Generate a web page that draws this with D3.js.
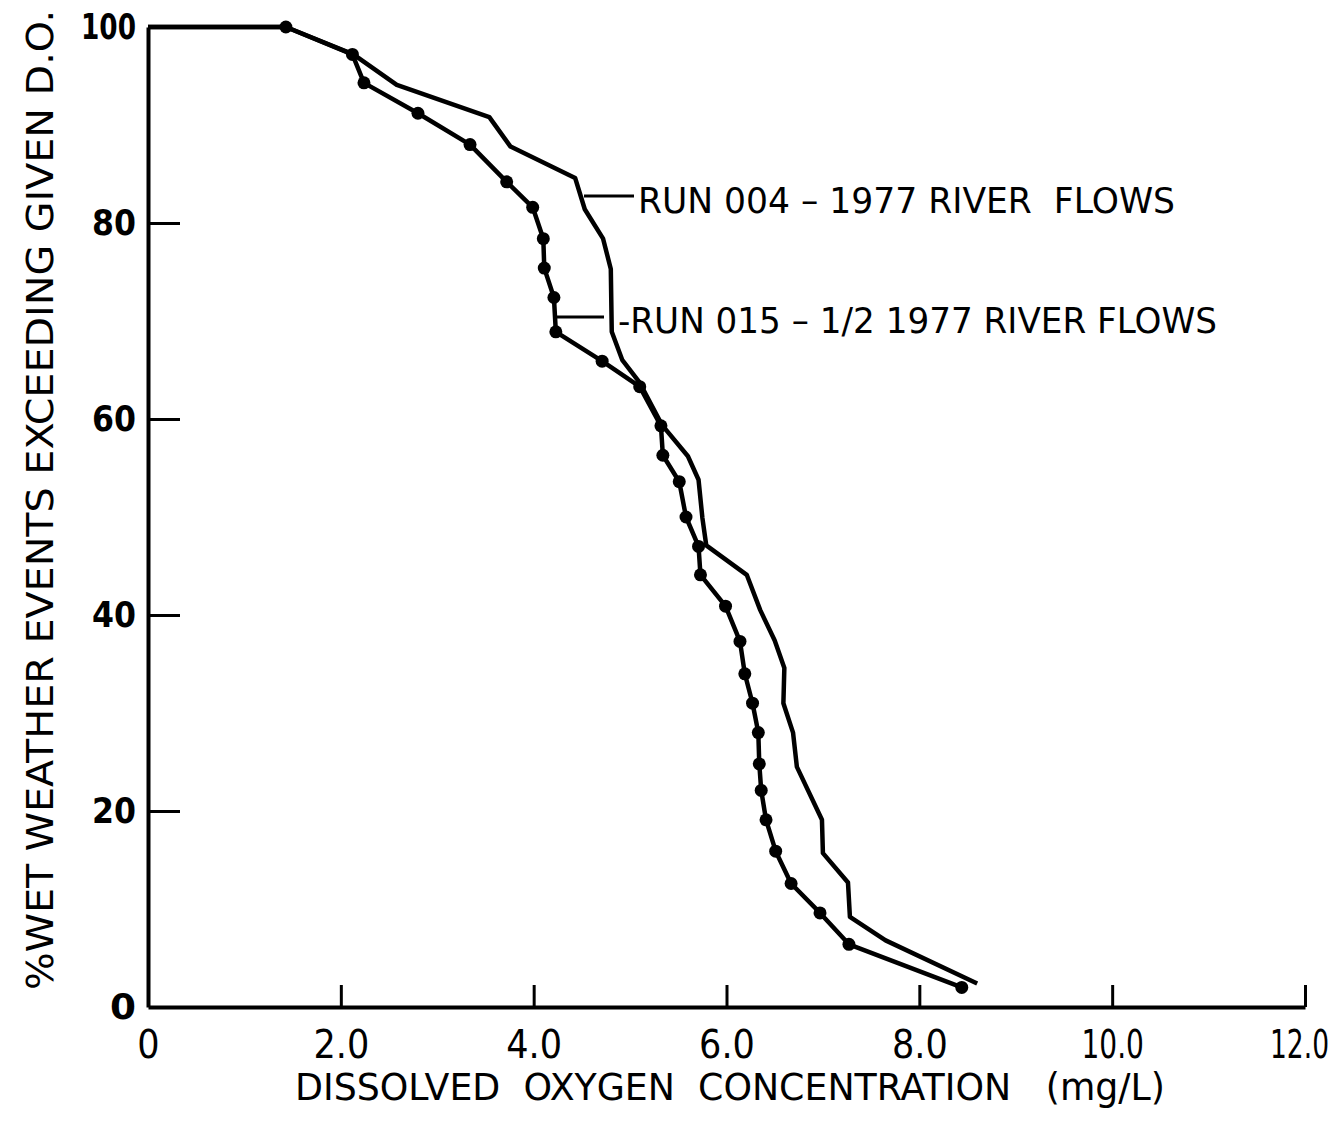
<!DOCTYPE html>
<html>
<head>
<meta charset="utf-8">
<script src="https://cdn.jsdelivr.net/npm/d3@7"></script>
<style>
  body { margin: 0; background: #fff; }
  text { font-family: "DejaVu Sans", sans-serif; fill: #000; }
</style>
</head>
<body>
<div></div>
<script>
// run 004 - 1977 river flows (plain line)
var run004Do = [0, 1.43, 2.13, 2.58, 3.54, 3.76, 4.43, 4.53, 4.72, 4.80, 4.81, 4.92, 5.10, 5.33, 5.60, 5.71, 5.75, 5.79, 6.21, 6.35, 6.50, 6.60, 6.59, 6.69, 6.73, 6.99, 7.00, 7.26, 7.28, 7.65, 8.60];
var run004Pct = [100, 100, 97.2, 94.1, 90.8, 87.8, 84.6, 81.4, 78.4, 75.3, 68.9, 66.0, 63.7, 59.4, 56.2, 53.8, 49.9, 47.1, 44.1, 40.5, 37.4, 34.6, 31.0, 28.0, 24.5, 19.1, 15.7, 12.7, 9.2, 6.8, 2.4];

// run 015 - 1/2 1977 river flows (line with dots, first point has no dot)
var run015Do = [0, 1.43, 2.12, 2.24, 2.80, 3.34, 3.72, 3.99, 4.10, 4.11, 4.21, 4.23, 4.71, 5.10, 5.32, 5.34, 5.51, 5.58, 5.71, 5.73, 5.99, 6.14, 6.19, 6.27, 6.33, 6.34, 6.36, 6.41, 6.51, 6.67, 6.97, 7.27, 8.44];
var run015Pct = [100, 100, 97.2, 94.3, 91.2, 88.0, 84.2, 81.6, 78.4, 75.4, 72.4, 68.9, 65.9, 63.3, 59.3, 56.3, 53.6, 50.0, 47.0, 44.1, 40.9, 37.3, 34.0, 31.0, 28.0, 24.8, 22.1, 19.1, 15.9, 12.6, 9.6, 6.4, 2.0];

var xTicks = [0, 2, 4, 6, 8, 10, 12];
var yTicks = [0, 20, 40, 60, 80, 100];

var width = 1340;
var height = 1134;

var svg = d3.select('div')
    .append('svg')
    .attr('width', width)
    .attr('height', height);

var xscale = d3.scaleLinear().domain([0, 12]).range([148, 1305]);
var yscale = d3.scaleLinear().domain([0, 100]).range([1007, 27]);

var run004 = run004Do.map(function (d, i) { return [d, run004Pct[i]]; });
var run015 = run015Do.map(function (d, i) { return [d, run015Pct[i]]; });

var line = d3.line()
    .x(function (d) { return xscale(d[0]); })
    .y(function (d) { return yscale(d[1]); });

// axes
var xaxis = d3.axisBottom(xscale)
    .tickValues(xTicks)
    .tickSize(-22)
    .tickSizeOuter(0)
    .tickPadding(23)
    .tickFormat(function (d) { return d === 0 ? "0" : d.toFixed(1); });

var yaxis = d3.axisLeft(yscale)
    .tickValues(yTicks)
    .tickSize(-32)
    .tickSizeOuter(0)
    .tickPadding(12)
    .tickFormat(function (d) { return d; });

var gx = svg.append("g")
    .attr("transform", "translate(0," + yscale(0) + ")")
    .call(xaxis);
gx.select(".domain").attr("stroke-width", 4).attr("stroke", "#000");
gx.selectAll(".tick line").attr("stroke-width", 3).attr("stroke", "#000");
gx.selectAll(".tick text")
    .style("font-size", "39px")
    .style("font-family", "'DejaVu Sans', sans-serif")
    .attr("fill", "#000")
    .attr("transform", function (d) {
        if (d === 0) return "scale(0.9,1)";
        if (d === 12) return "translate(-6,0) scale(0.68,1)";
        if (d === 10) return "scale(0.72,1)";
        return "scale(0.9,1)";
    });

var gy = svg.append("g")
    .attr("transform", "translate(" + xscale(0) + ",0)")
    .call(yaxis);
gy.select(".domain").attr("stroke-width", 4).attr("stroke", "#000");
gy.selectAll(".tick line").attr("stroke-width", 3).attr("stroke", "#000");
gy.selectAll(".tick").filter(function (d) { return d === 0 || d === 100; }).select("line").remove();
gy.selectAll(".tick text")
    .style("font-size", "36px")
    .style("font-weight", "bold")
    .style("font-family", "'DejaVu Sans', sans-serif")
    .attr("fill", "#000")
    .attr("lengthAdjust", "spacingAndGlyphs")
    .attr("textLength", function (d) { return d === 0 ? 26 : (d === 100 ? 55 : 44); });

// lines
svg.append("path")
    .datum(run004)
    .attr("d", line)
    .attr("fill", "none")
    .attr("stroke", "#000")
    .attr("stroke-width", 4.5)
    .attr("stroke-linejoin", "round");

svg.append("path")
    .datum(run015)
    .attr("d", line)
    .attr("fill", "none")
    .attr("stroke", "#000")
    .attr("stroke-width", 4.5)
    .attr("stroke-linejoin", "round");

svg.selectAll("circle")
    .data(run015.slice(1))
    .enter()
    .append("circle")
    .attr("cx", function (d) { return xscale(d[0]); })
    .attr("cy", function (d) { return yscale(d[1]); })
    .attr("r", 6.5)
    .attr("fill", "#000");

// labels with leader lines
svg.append("line")
    .attr("x1", 584).attr("y1", 196).attr("x2", 634).attr("y2", 196)
    .attr("stroke", "#000").attr("stroke-width", 3);
svg.append("text")
    .attr("x", 638)
    .attr("y", 213)
    .attr("textLength", 537)
    .attr("lengthAdjust", "spacingAndGlyphs")
    .style("font-size", "36px")
    .style("white-space", "pre")
    .text("RUN 004 \u2013 1977 RIVER  FLOWS");

svg.append("line")
    .attr("x1", 555).attr("y1", 317).attr("x2", 604).attr("y2", 317)
    .attr("stroke", "#000").attr("stroke-width", 3);
svg.append("text")
    .attr("x", 618)
    .attr("y", 333)
    .attr("textLength", 599)
    .attr("lengthAdjust", "spacingAndGlyphs")
    .style("font-size", "36px")
    .text("-RUN 015 \u2013 1/2 1977 RIVER FLOWS");

// axis titles
svg.append("text")
    .attr("x", 295)
    .attr("y", 1100)
    .attr("textLength", 870)
    .attr("lengthAdjust", "spacingAndGlyphs")
    .style("font-size", "37px")
    .style("white-space", "pre")
    .text("DISSOLVED  OXYGEN  CONCENTRATION   (mg/L)");

svg.append("text")
    .attr("transform", "translate(53,990) rotate(-90)")
    .attr("x", 0)
    .attr("y", 0)
    .attr("textLength", 980)
    .attr("lengthAdjust", "spacingAndGlyphs")
    .style("font-size", "38px")
    .text("%WET WEATHER EVENTS EXCEEDING GIVEN D.O.");
</script>
</body>
</html>
